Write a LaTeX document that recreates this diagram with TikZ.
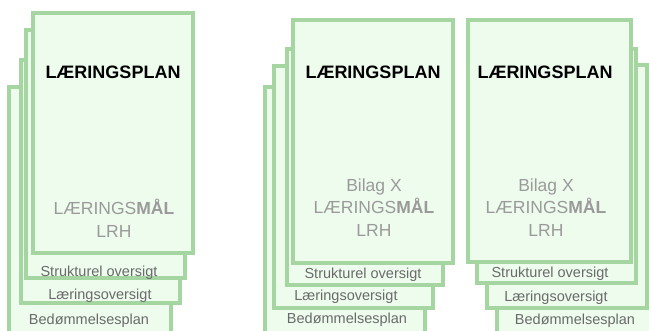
\documentclass[tikz,border=0pt]{standalone}
\usepackage{fontspec}
\setmainfont{Liberation Sans}
\definecolor{cardline}{HTML}{A5D5A1}
\definecolor{cardfill}{HTML}{EEFCEE}
\definecolor{bodygray}{HTML}{9A9A9A}
\definecolor{stripgray}{HTML}{6A6A6A}
\begin{document}
\begin{tikzpicture}[x=1pt, y=-1pt,
	card/.style={draw=cardline, fill=cardfill, line width=3.4pt},
	title/.style={font=\fontsize{18}{22}\selectfont\bfseries},
	body/.style={text=bodygray, font=\fontsize{17.5}{22.5}\selectfont, align=center},
	strip/.style={text=stripgray, font=\fontsize{14.5}{17}\selectfont}]
		\useasboundingbox (0,0) rectangle (649,331);
		% left stack
		\draw[card] (9,87) rectangle (171,345);
		\node[strip] (bed1) at (89,321) {Bedømmelsesplan};
		\draw[card] (21,60) rectangle (180,303);
		\node[strip] (lo1) at (100,296) {Læringsoversigt};
		\draw[card] (26,30) rectangle (185,278);
		\node[strip] (so1) at (99,273) {Strukturel oversigt};
		\draw[card] (33,13) rectangle (193,253);
		\node[title] (lp1) at (113,72) {LÆRINGSPLAN};
		\node[body] (mal1) at (114,218.5) {LÆRINGS\textbf{MÅL}\\LRH};
		% middle stack
		\draw[card] (265,87) rectangle (425,345);
		\node[strip] (bed2) at (347,320) {Bedømmelsesplan};
		\draw[card] (274,66) rectangle (433,308);
		\node[strip] (lo2) at (346,297) {Læringsoversigt};
		\draw[card] (287,49) rectangle (443,285);
		\node[strip] (so2) at (363,275) {Strukturel oversigt};
		\draw[card] (293,20) rectangle (453,263);
		\node[title] (lp2) at (373,72) {LÆRINGSPLAN};
		\node[body] (mal2) at (374,207.5) {Bilag X\\LÆRINGS\textbf{MÅL}\\LRH};
		% right stack
		\draw[card] (497,87) rectangle (660,345);
		\node[strip] (bed3) at (575,321) {Bedømmelsesplan};
		\draw[card] (487,65) rectangle (647,308);
		\node[strip] (lo3) at (556,298) {Læringsoversigt};
		\draw[card] (477,49) rectangle (636,283);
		\node[strip] (so3) at (550,274) {Strukturel oversigt};
		\draw[card] (468,20) rectangle (631,262);
		\node[title] (lp3) at (545,72) {LÆRINGSPLAN};
		\node[body] (mal3) at (546,207.5) {Bilag X\\LÆRINGS\textbf{MÅL}\\LRH};
\end{tikzpicture}
\end{document}
